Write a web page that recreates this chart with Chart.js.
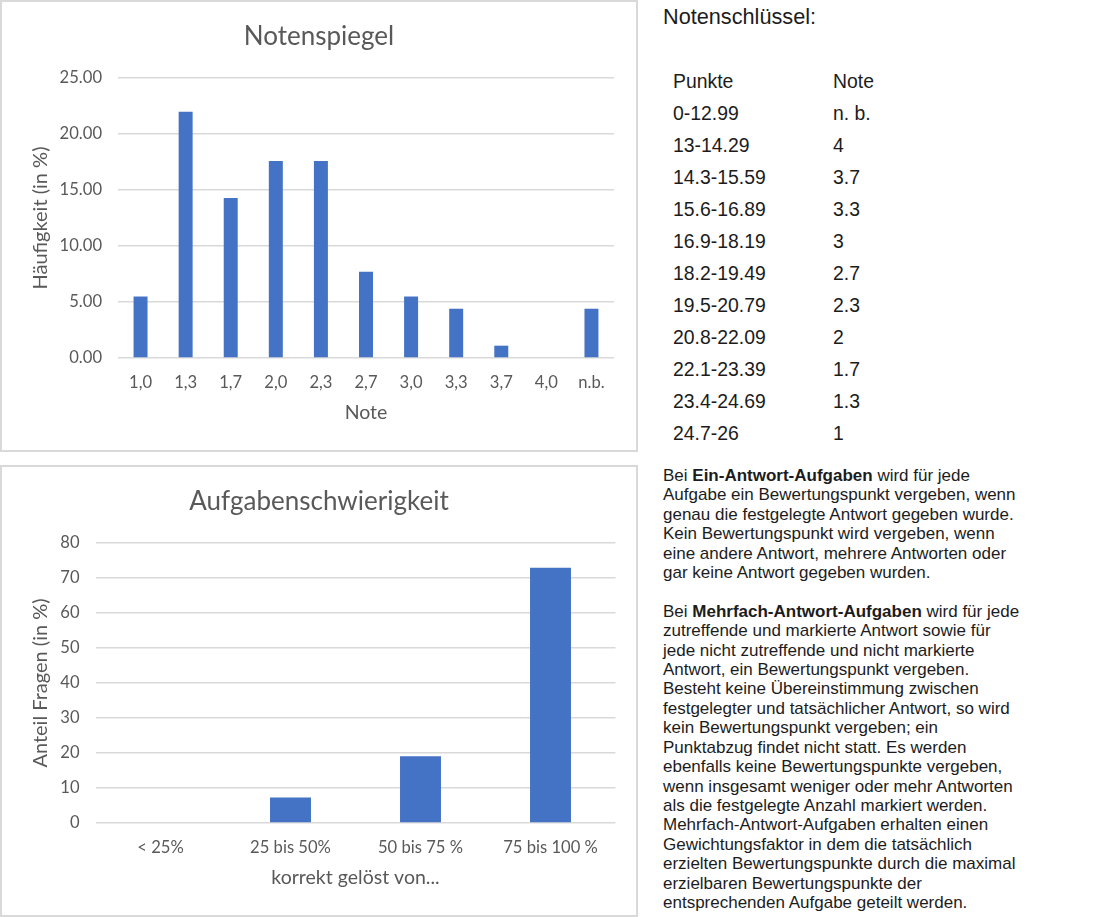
<!DOCTYPE html>
<html>
<head>
<meta charset="utf-8">
<script src="https://cdn.jsdelivr.net/npm/chart.js@4.4.1/dist/chart.umd.min.js"></script>
<style>
  html, body { margin: 0; padding: 0; background: #ffffff; }
  body { width: 1095px; height: 917px; position: relative; overflow: hidden; }
  .frame { position: absolute; box-sizing: border-box; border: 2px solid #d9d9d9; pointer-events: none; }
  canvas { position: absolute; }
  .txt { position: absolute; font-family: "Liberation Sans", Arial, sans-serif; color: #1c1c1c; white-space: nowrap; }
  .head { left: 663px; top: 5px; font-size: 21.7px; line-height: 24px; }
  .row { font-size: 19.4px; line-height: 32px; }
  .para { left: 663px; top: 466px; font-size: 17px; line-height: 19.4px; }
</style>
</head>
<body>
<canvas id="c1" width="638" height="452" style="left:0;top:0;"></canvas>
<canvas id="c2" width="638" height="452" style="left:0;top:465px;"></canvas>
<div class="frame" style="left:0;top:0;width:638px;height:452px;"></div>
<div class="frame" style="left:0;top:465px;width:638px;height:452px;"></div>

<div class="txt head">Notenschlüssel:</div>
<div id="table"></div>

<div class="txt para">Bei <b>Ein-Antwort-Aufgaben</b> wird für jede<br>Aufgabe ein Bewertungspunkt vergeben, wenn<br>genau die festgelegte Antwort gegeben wurde.<br>Kein Bewertungspunkt wird vergeben, wenn<br>eine andere Antwort, mehrere Antworten oder<br>gar keine Antwort gegeben wurden.<br><br>Bei <b>Mehrfach-Antwort-Aufgaben</b> wird für jede<br>zutreffende und markierte Antwort sowie für<br>jede nicht zutreffende und nicht markierte<br>Antwort, ein Bewertungspunkt vergeben.<br>Besteht keine Übereinstimmung zwischen<br>festgelegter und tatsächlicher Antwort, so wird<br>kein Bewertungspunkt vergeben; ein<br>Punktabzug findet nicht statt. Es werden<br>ebenfalls keine Bewertungspunkte vergeben,<br>wenn insgesamt weniger oder mehr Antworten<br>als die festgelegte Anzahl markiert werden.<br>Mehrfach-Antwort-Aufgaben erhalten einen<br>Gewichtungsfaktor in dem die tatsächlich<br>erzielten Bewertungspunkte durch die maximal<br>erzielbaren Bewertungspunkte der<br>entsprechenden Aufgabe geteilt werden.</div>

<script>
// ---- Data ----
const notenCategories = ['1,0', '1,3', '1,7', '2,0', '2,3', '2,7', '3,0', '3,3', '3,7', '4,0', 'n.b.'];
const notenValues = [5.49, 21.98, 14.29, 17.58, 17.58, 7.69, 5.49, 4.40, 1.10, 0, 4.40];
const notenAxisMax = 25;
const notenAxisStep = 5;

const schwierigkeitCategories = ['< 25%', '25 bis 50%', '50 bis 75 %', '75 bis 100 %'];
const schwierigkeitValues = [0, 7.3, 19.1, 72.9];
const schwierigkeitAxisMax = 80;
const schwierigkeitAxisStep = 10;

const schluesselPunkte = ['Punkte', '0-12.99', '13-14.29', '14.3-15.59', '15.6-16.89', '16.9-18.19', '18.2-19.49', '19.5-20.79', '20.8-22.09', '22.1-23.39', '23.4-24.69', '24.7-26'];
const schluesselNote = ['Note', 'n. b.', '4', '3.7', '3.3', '3', '2.7', '2.3', '2', '1.7', '1.3', '1'];

// ---- Grade key table ----
const tbl = document.getElementById('table');
schluesselPunkte.forEach((p, i) => {
  const top = 65 + i * 32;
  const a = document.createElement('div');
  a.className = 'txt row'; a.style.left = '673px'; a.style.top = top + 'px'; a.textContent = p;
  const b = document.createElement('div');
  b.className = 'txt row'; b.style.left = '833px'; b.style.top = top + 'px'; b.textContent = schluesselNote[i];
  tbl.appendChild(a); tbl.appendChild(b);
});

// ---- Charts ----
const GRAY = '#595959';
const FONT = 'Lato';

function makeChart(id, cats, vals, title, yTitle, xTitle, max, step, fmt, yWidth, barPct, rightPad) {
  return new Chart(document.getElementById(id), {
    type: 'bar',
    data: {
      labels: cats,
      datasets: [{ data: vals, backgroundColor: '#4472c4', borderWidth: 0, barPercentage: barPct, categoryPercentage: 1 }]
    },
    options: {
      responsive: false,
      animation: false,
      devicePixelRatio: 1,
      layout: { padding: 0 },
      plugins: {
        legend: { display: false },
        tooltip: { enabled: false },
        title: {
          display: true, text: title, color: GRAY,
          font: { family: FONT, size: 26, weight: 'normal' },
          padding: { top: 21.4, bottom: 25.4 }
        }
      },
      scales: {
        x: {
          grid: { display: false, drawTicks: false },
          border: { display: false },
          ticks: { color: GRAY, font: { family: FONT, size: 16.6 }, padding: 15, maxRotation: 0, autoSkip: false },
          title: { display: true, text: xTitle, color: GRAY, font: { family: FONT, size: 19.5 }, padding: { top: 0, bottom: 27.3 } },
          afterFit: (s) => { s.height = 94; }
        },
        y: {
          min: 0, max: max,
          grid: { color: '#d9d9d9', lineWidth: 1.5, drawTicks: false },
          border: { display: false },
          ticks: { stepSize: step, color: GRAY, font: { family: FONT, size: 16.6 }, padding: 16, callback: fmt },
          title: { display: true, text: yTitle, color: GRAY, font: { family: FONT, size: 20 }, padding: { top: 29, bottom: 0 } },
          afterFit: (s) => { s.width = yWidth; }
        },
        spacer: {
          type: 'linear', position: 'right',
          grid: { display: false, drawTicks: false },
          border: { display: false },
          ticks: { display: false },
          afterFit: (s) => { s.width = rightPad; }
        }
      }
    }
  });
}

makeChart('c1', notenCategories, notenValues, 'Notenspiegel', 'Häufigkeit (in %)', 'Note',
  notenAxisMax, notenAxisStep, (v) => Number(v).toFixed(2), 118, 0.31, 24);
makeChart('c2', schwierigkeitCategories, schwierigkeitValues, 'Aufgabenschwierigkeit', 'Anteil Fragen (in %)', 'korrekt gelöst von...',
  schwierigkeitAxisMax, schwierigkeitAxisStep, (v) => String(v), 95.5, 0.315, 22.5);
</script>
</body>
</html>
